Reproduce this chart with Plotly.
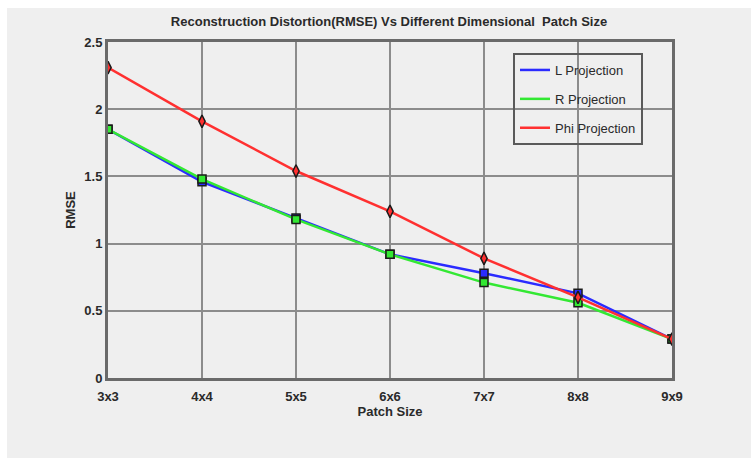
import plotly.graph_objects as go

categories = ["3x3", "4x4", "5x5", "6x6", "7x7", "8x8", "9x9"]
l_projection = [1.85, 1.46, 1.19, 0.92, 0.78, 0.63, 0.29]
r_projection = [1.85, 1.48, 1.18, 0.92, 0.71, 0.56, 0.29]
phi_projection = [2.31, 1.91, 1.54, 1.24, 0.89, 0.60, 0.29]
y_ticks = [0, 0.5, 1, 1.5, 2, 2.5]
y_tick_labels = ["0", "0.5", "1", "1.5", "2", "2.5"]

xpos = list(range(len(categories)))

W, H = 751, 458
L, R, T, B = 108, 79, 42, 80
pw, ph = W - L - R, H - T - B

font_main = "Liberation Sans, Arial, sans-serif"
txt_col = "#2a2a2a"

fig = go.Figure()

series = [
    ("L Projection", l_projection, "#2b2bff", "square", 8),
    ("R Projection", r_projection, "#33e833", "square", 8),
    ("Phi Projection", phi_projection, "#ff3030", "diamond-tall", 9),
]
for name, vals, col, sym, sz in series:
    fig.add_trace(go.Scatter(
        x=xpos, y=vals, name=name, mode="lines+markers",
        showlegend=False,
        line=dict(color=col, width=2.5),
        marker=dict(symbol=sym, size=sz, color=col,
                    line=dict(color="#1a1a1a", width=1.5)),
    ))
# legend entries: line samples only
for name, vals, col, sym, sz in series:
    fig.add_trace(go.Scatter(
        x=[None], y=[None], name=name, mode="lines",
        legendgroup=name, showlegend=True,
        line=dict(color=col, width=2.5),
    ))

# light gray page background (white rim at top-left)
fig.add_shape(type="rect", xref="paper", yref="paper",
              x0=(7 - L) / pw, x1=(W + 5 - L) / pw,
              y0=(T + ph - (H + 5)) / ph, y1=(T + ph - 8) / ph,
              fillcolor="#efefef", line=dict(width=0), layer="below")

fig.update_layout(
    width=W, height=H,
    margin=dict(l=L, r=R, t=T, b=B),
    paper_bgcolor="white",
    plot_bgcolor="#efefef",
    title=dict(text="<b>Reconstruction Distortion(RMSE) Vs Different Dimensional  Patch Size</b>",
               x=389 / W, xanchor="center", y=1 - 21 / H, yanchor="middle",
               font=dict(family=font_main, size=13, color=txt_col)),
    showlegend=True,
    legend=dict(x=(513 - L) / pw, y=(T + ph - 53) / ph, xanchor="left", yanchor="top",
                bgcolor="rgba(0,0,0,0)", bordercolor="#5a5a5a", borderwidth=2,
                tracegroupgap=9,
                font=dict(family=font_main, size=13, color=txt_col)),
    xaxis=dict(
        range=[0, len(categories) - 1], tickvals=xpos,
        ticktext=["<b>%s</b>" % c for c in categories],
        showgrid=True, gridcolor="#8c8c8c", gridwidth=2,
        showline=True, linecolor="#6a6a6a", linewidth=3, mirror=True,
        zeroline=False, ticks="outside", ticklen=4, tickcolor="rgba(0,0,0,0)",
        tickfont=dict(family=font_main, size=13, color=txt_col),
        title=dict(text="<b>Patch Size</b>", standoff=2,
                   font=dict(family=font_main, size=13, color=txt_col)),
    ),
    yaxis=dict(
        range=[0, 2.5], tickvals=y_ticks,
        ticktext=["<b>%s</b>" % t for t in y_tick_labels],
        showgrid=True, gridcolor="#8c8c8c", gridwidth=2,
        showline=True, linecolor="#6a6a6a", linewidth=3, mirror=True,
        zeroline=False, ticks="",
        tickfont=dict(family=font_main, size=13, color=txt_col),
        title=dict(text="<b>RMSE</b>", standoff=6,
                   font=dict(family=font_main, size=13, color=txt_col)),
    ),
)

fig.write_html("out.html")
